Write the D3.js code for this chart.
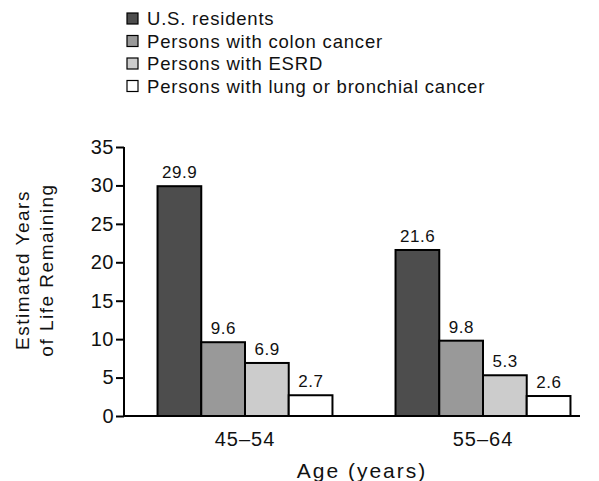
<!DOCTYPE html>
<html><head><meta charset="utf-8">
<script src="https://cdn.jsdelivr.net/npm/d3@7"></script>
<style>body{margin:0;background:#fff}svg{display:block}text{font-family:"Liberation Sans",Arial,sans-serif;fill:#111}</style>
</head><body><svg id="c" width="599" height="481"></svg>
<script>
const groups = ["45\u201354", "55\u201364"];
const seriesNames = ["U.S. residents", "Persons with colon cancer", "Persons with ESRD", "Persons with lung or bronchial cancer"];
const usResidents = [29.9, 21.6];
const colonCancer = [9.6, 9.8];
const esrd = [6.9, 5.3];
const lungCancer = [2.7, 2.6];
const yTicks = [0, 5, 10, 15, 20, 25, 30, 35];
const colors = ["#4d4d4d", "#999999", "#cccccc", "#ffffff"];
const series = [usResidents, colonCancer, esrd, lungCancer];
const FONT = "'Liberation Sans',Arial,sans-serif";

const svg = d3.select("#c");
const y = d3.scaleLinear().domain([0, 35]).range([416, 147]);
const x0 = d3.scaleBand().domain(groups).range([126, 602]).paddingInner(0.265).paddingOuter(0.1325);
const x1 = d3.scaleBand().domain(d3.range(4)).range([0, x0.bandwidth()]);

// bars
groups.forEach((g, gi) => {
  series.forEach((s, si) => {
    const v = s[gi];
    svg.append("rect")
      .attr("x", x0(g) + x1(si)).attr("y", y(v))
      .attr("width", x1.bandwidth()).attr("height", y(0) - y(v))
      .attr("fill", colors[si]).attr("stroke", "#000").attr("stroke-width", 2);
    svg.append("text")
      .attr("x", x0(g) + x1(si) + x1.bandwidth() / 2 + 0.25).attr("y", y(v) - 8)
      .attr("text-anchor", "middle").attr("font-size", 17).attr("letter-spacing", 0.5).text(v.toFixed(1));
  });
});

// y axis
const yAxis = d3.axisLeft(y).tickValues(yTicks).tickSize(8).tickPadding(2);
const ga = svg.append("g").attr("transform", "translate(124,0)").call(yAxis);
ga.select(".domain").attr("stroke", "#000").attr("stroke-width", 2).attr("d", "M0," + y(35) + "V416");
ga.selectAll(".tick line").attr("stroke", "#000").attr("stroke-width", 2);
ga.selectAll(".tick text").attr("font-size", 20).attr("letter-spacing", 0.5).attr("font-family", FONT).attr("fill", "#111");

// x axis
const xAxis = d3.axisBottom(x0).tickSize(0).tickPadding(16);
const gx = svg.append("g").attr("transform", "translate(0,416)").call(xAxis);
gx.select(".domain").attr("stroke", "#000").attr("stroke-width", 2).attr("d", "M124,0H580");
gx.selectAll(".tick text").attr("font-size", 20).attr("letter-spacing", 1).attr("font-family", FONT).attr("fill", "#111");

// axis titles
svg.append("text").attr("x", 362).attr("y", 478).attr("text-anchor", "middle").attr("font-size", 21).attr("letter-spacing", 2).text("Age (years)");
const yt = svg.append("text").attr("transform", "translate(0,270) rotate(-90)").attr("text-anchor", "middle").attr("font-size", 19).attr("letter-spacing", 1.5);
yt.append("tspan").attr("x", 0).attr("y", 29).text("Estimated Years");
yt.append("tspan").attr("x", 0).attr("y", 53).text("of Life Remaining");

// legend
seriesNames.forEach((n, i) => {
  const ly = 18.5 + i * 22.5;
  svg.append("rect").attr("x", 127).attr("y", ly - 5.5).attr("width", 11).attr("height", 11)
    .attr("fill", colors[i]).attr("stroke", "#000").attr("stroke-width", 1.2);
  svg.append("text").attr("x", 147).attr("y", ly + 6.5).attr("font-size", 18.5).attr("letter-spacing", 0.8).text(n);
});
</script></body></html>
